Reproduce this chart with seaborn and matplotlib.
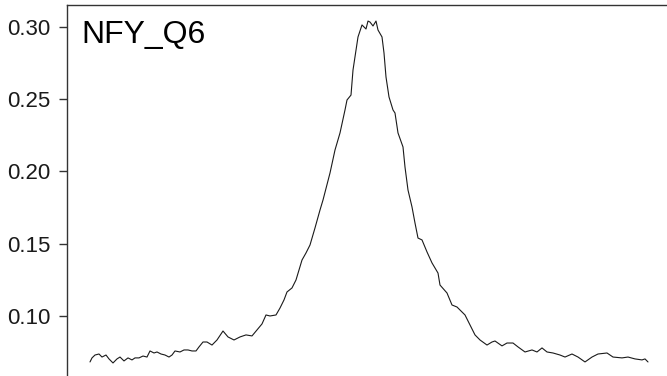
import matplotlib
matplotlib.use("Agg")
import matplotlib.pyplot as plt
import seaborn as sns
import pandas as pd

# Profile position (arbitrary units) and signal values
positions = [0, 2, 5, 9, 12, 16, 19, 23, 27, 30, 34, 38, 42, 45, 49, 53, 57, 60, 64, 67,
             71, 75, 79, 82, 85, 90, 94, 98, 102, 106, 109, 113, 117, 122, 127, 133, 138, 144,
             150, 156, 162, 167, 172, 176, 180, 186, 190, 194, 197, 202, 206, 209, 212, 216,
             220, 225, 230, 233, 240, 245, 250, 255, 257, 261, 263, 266, 268, 272, 276, 278,
             280, 283, 286, 288, 292, 294, 296, 299, 303, 305, 308, 313, 315, 318, 322, 325,
             328, 332, 337, 342, 348, 350, 357, 362, 367, 372, 375, 380, 385, 390, 397, 402,
             405, 412, 417, 423, 428, 435, 442, 447, 452, 457, 463, 470, 475, 482, 488, 495,
             502, 508, 517, 523, 532, 538, 545, 552, 555, 558]
signal = [0.0682, 0.0710, 0.0730, 0.0737, 0.0716, 0.0730, 0.0703, 0.0675, 0.0703, 0.0716,
          0.0689, 0.0710, 0.0696, 0.0710, 0.0710, 0.0723, 0.0716, 0.0758, 0.0744, 0.0751,
          0.0737, 0.0730, 0.0716, 0.0730, 0.0758, 0.0751, 0.0765, 0.0765, 0.0758, 0.0758,
          0.0786, 0.0820, 0.0820, 0.0799, 0.0834, 0.0896, 0.0855, 0.0834, 0.0855, 0.0869,
          0.0862, 0.0903, 0.0945, 0.1007, 0.1000, 0.1007, 0.1055, 0.1111, 0.1166, 0.1194,
          0.1249, 0.1318, 0.1387, 0.1436, 0.1491, 0.1609, 0.1733, 0.1802, 0.1989, 0.2148,
          0.2266, 0.2425, 0.2494, 0.2528, 0.2701, 0.2840, 0.2930, 0.3013, 0.2985, 0.3040,
          0.3033, 0.3006, 0.3040, 0.2978, 0.2930, 0.2819, 0.2653, 0.2515, 0.2425, 0.2404,
          0.2266, 0.2169, 0.2030, 0.1871, 0.1754, 0.1643, 0.1539, 0.1526, 0.1443, 0.1367,
          0.1297, 0.1214, 0.1159, 0.1076, 0.1062, 0.1028, 0.1007, 0.0938, 0.0869, 0.0834,
          0.0799, 0.0820, 0.0827, 0.0793, 0.0813, 0.0813, 0.0786, 0.0751, 0.0765, 0.0751,
          0.0779, 0.0751, 0.0744, 0.0730, 0.0716, 0.0737, 0.0716, 0.0682, 0.0716, 0.0737,
          0.0744, 0.0716, 0.0710, 0.0716, 0.0703, 0.0696, 0.0703, 0.0682]
y_ticks = [0.10, 0.15, 0.20, 0.25, 0.30]
y_tick_labels = ["0.10", "0.15", "0.20", "0.25", "0.30"]
panel_label = "NFY_Q6"

sns.set_theme(style="white")
plt.rcParams["font.family"] = ["Liberation Sans", "DejaVu Sans"]

W, H = 667, 376
fig = plt.figure(figsize=(W / 100, H / 100), dpi=100)
# axes in pixel coords: left 67, right 690 (off image), top 5, bottom 390 (off image)
ax = fig.add_axes([67 / W, (H - 390) / H, (690 - 67) / W, (390 - 5) / H])

df = pd.DataFrame({"pos": positions, "signal": signal})
sns.lineplot(data=df, x="pos", y="signal", ax=ax, color="#1a1a1a", linewidth=0.8,
             estimator=None, sort=False)

ax.set_xlim(-23, 600)
ax.set_ylim(0.0488, 0.3151)
ax.set_xticks([])
ax.set_yticks(y_ticks)
ax.set_yticklabels(y_tick_labels)
ax.set_xlabel("")
ax.set_ylabel("")
ax.tick_params(axis="y", left=True, length=6, width=1.0, color="#333333",
               labelsize=16, labelcolor="#1a1a1a", pad=6)
for side in ["left", "top", "right", "bottom"]:
    ax.spines[side].set_color("#333333")
    ax.spines[side].set_linewidth(1.0)

ax.annotate(panel_label, xy=(0, 1), xycoords="axes fraction",
            xytext=(14 * 0.72, -38 * 0.72), textcoords="offset points",
            ha="left", va="baseline", fontsize=23, color="black")

fig.savefig("out.png", dpi=100)
